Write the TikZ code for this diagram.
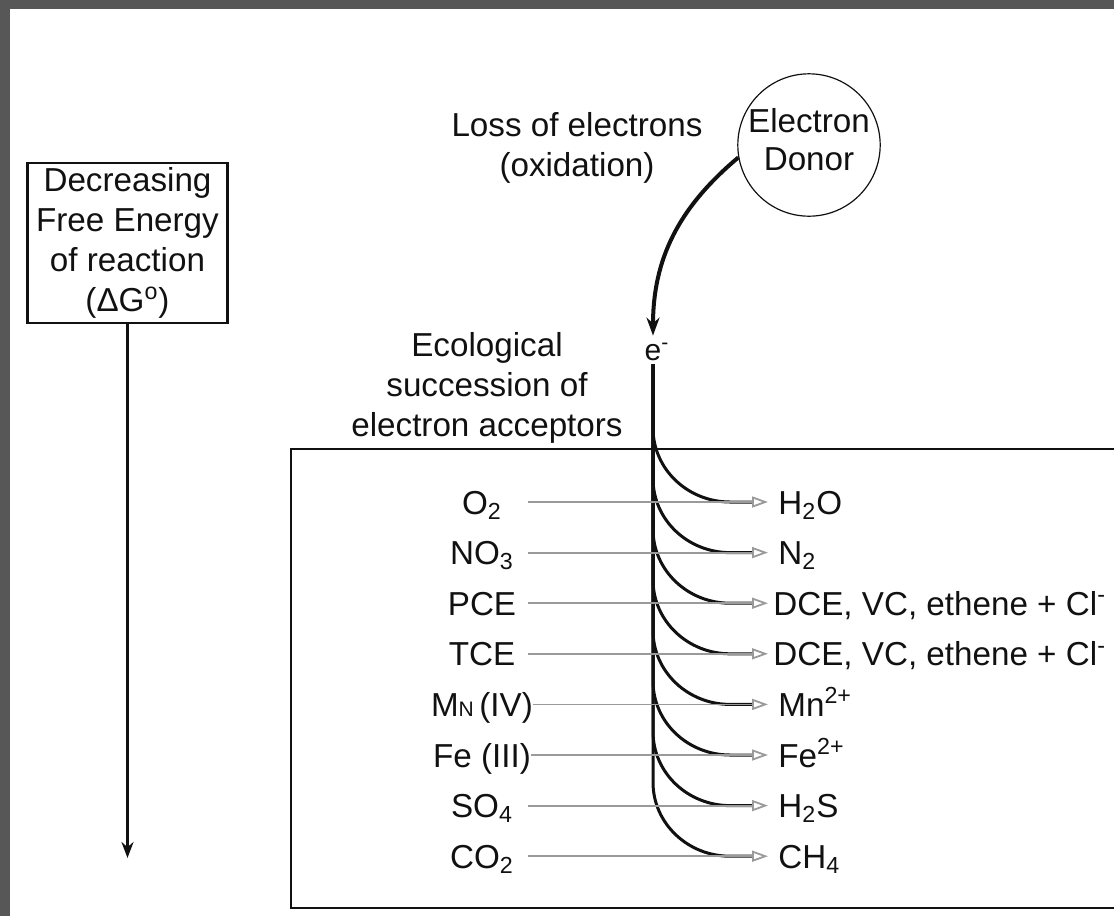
\documentclass[tikz,border=0pt]{standalone}
\usepackage{fontspec}
\setmainfont{Liberation Sans}
\usepackage{tikz}
\usetikzlibrary{arrows.meta, positioning, calc}
\definecolor{rim}{HTML}{575757}
\definecolor{feedgray}{HTML}{9A9A9A}
\definecolor{ink}{HTML}{111111}

\begin{document}
\begin{tikzpicture}[x=0.5pt, y=-0.5pt, font=\fontsize{16.6pt}{20pt}\selectfont, text=ink,
    acceptor/.style={minimum width=46pt, inner sep=0pt, text height=12pt, text depth=0pt},
    product/.style={anchor=west, inner sep=0pt, text height=12pt, text depth=0pt},
    flow/.style={draw=ink, line width=1.5pt},
    feed/.style={draw=feedgray, line width=0.9pt, shorten >=5pt,
                 -{Triangle[open, length=8pt, width=5.5pt]}}]

  % Page size and the dark rim along the top and left.
  \useasboundingbox (0,0) rectangle (1114,916);
  \fill[rim] (0,0) rectangle (1114,9);
  \fill[rim] (0,0) rectangle (10,916);

  % Free energy scale on the left.
  \node[draw=ink, line width=1.2pt, align=center, inner sep=1pt,
        minimum width=100pt, minimum height=80pt] (dg) at (127.5,243)
    {Decreasing\\Free Energy\\of reaction\\(ΔG\textsuperscript{o})};
  \coordinate (dgend) at (127.5,858);
  \draw[draw=ink, line width=1.5pt, -{Stealth[length=8pt, width=6pt]}] (dg.south) -- (dgend);

  % The donor and the electron it gives up.
  \node[draw=ink, circle, line width=0.6pt, minimum size=71pt, inner sep=0pt, align=center]
    (donor) at (809,145) {Electron\\[-1pt]Donor\\[-14pt]\mbox{}};
  \node[align=center] (loss) at (577,148) {Loss of electrons\\(oxidation)};
  \node[font=\fontsize{15pt}{18pt}\selectfont, inner sep=2pt, text height=10pt, text depth=0pt]
    (em) at (653,350) {e\rlap{\textsuperscript{-}}};
  \draw[draw=ink, line width=2pt, -{Stealth[length=9pt, width=6.5pt]}]
    (donor.190) to[out=220, in=90] (em.north);
  \node[align=center] (eco) at (487,388) {Ecological\\succession of\\electron acceptors};

  % Box holding the acceptors.
  \draw[draw=ink, line width=1.2pt] (1130,449) -- (291,449) -- (291,908) -- (1130,908);

  % Acceptors (left column).
  \node[acceptor] (o2) at (482,502) {O\textsubscript{2}};
  \node[acceptor, below=12.9pt of o2] (no3) {NO\textsubscript{3}};
  \node[acceptor, below=12.9pt of no3] (pce) {PCE};
  \node[acceptor, below=12.9pt of pce] (tce) {TCE};
  \node[acceptor, below=12.9pt of tce] (mn4) {M{\fontsize{10.5pt}{12pt}\selectfont N}\,(IV)};
  \node[acceptor, below=12.9pt of mn4] (fe3) {Fe (III)};
  \node[acceptor, below=12.9pt of fe3] (so4) {SO\textsubscript{4}};
  \node[acceptor, below=12.9pt of so4] (co2) {CO\textsubscript{2}};

  % Reduced products (right column).
  \coordinate (rcol) at (778,0);
  \node[product] (h2o) at (o2 -| rcol) {H\textsubscript{2}O};
  \node[product] (n2) at (no3 -| rcol) {N\textsubscript{2}};
  \node[product] (dcea) at ($(pce -| rcol)+(-5,0)$) {DCE, VC, ethene + Cl\textsuperscript{-}};
  \node[product] (dceb) at ($(tce -| rcol)+(-5,0)$) {DCE, VC, ethene + Cl\textsuperscript{-}};
  \node[product] (mn2) at (mn4 -| rcol) {Mn\textsuperscript{2+}};
  \node[product] (fe2) at (fe3 -| rcol) {Fe\textsuperscript{2+}};
  \node[product] (h2s) at (so4 -| rcol) {H\textsubscript{2}S};
  \node[product] (ch4) at (co2 -| rcol) {CH\textsubscript{4}};

  % Electron paths branching off the trunk.
  \foreach \p in {h2o, n2, mn2, fe2, h2s, ch4}
    \draw[flow] (em.south) -- ($(\p.west)+(-125,-74)$) to[out=-90, in=180]
      ($(\p.west)+(-48,0)$) -- ($(\p.west)+(-26,0)$);
  \foreach \p in {dcea, dceb}
    \draw[flow] (em.south) -- ($(\p.west)+(-120,-74)$) to[out=-90, in=180]
      ($(\p.west)+(-43,0)$) -- ($(\p.west)+(-21,0)$);

  % Acceptor to product arrows.
  \foreach \a/\p in {o2/h2o, no3/n2, mn4/mn2, fe3/fe2, so4/h2s, co2/ch4}
    \draw[feed] (\a.east) -- (\p.west);
  \foreach \a/\p in {pce/dcea, tce/dceb}
    \draw[feed, shorten >=2.5pt] (\a.east) -- (\p.west);
\end{tikzpicture}
\end{document}
